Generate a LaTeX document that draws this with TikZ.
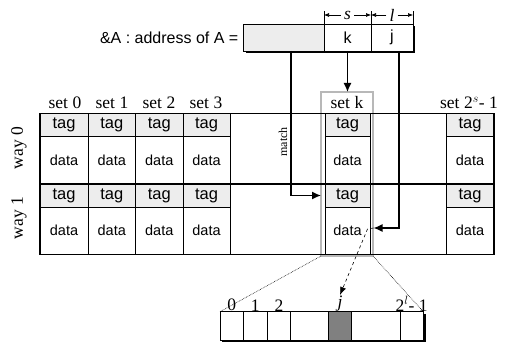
\documentclass[tikz,border=0pt]{standalone}
\usepackage{fontspec}
\setmainfont{Liberation Serif}
\setsansfont{Liberation Sans}
\usetikzlibrary{arrows.meta,calc}
\definecolor{tagfill}{gray}{0.93}
\definecolor{kgray}{gray}{0.72}
\definecolor{jfill}{gray}{0.5}
\newcommand\myTagFont{\sffamily\fontsize{16.5}{16.5}\selectfont}
\newcommand\myDataFont{\sffamily\fontsize{14.5}{14.5}\selectfont}
\newcommand\mySetFont{\rmfamily\fontsize{17.5}{17.5}\selectfont}
\newcommand\myAddrFont{\sffamily\fontsize{16}{16}\selectfont}
\newcommand\mySp{\hspace{4.5pt}}
\begin{document}
\begin{tikzpicture}[x=1pt,y=-1pt,
  cell/.style={draw, line width=0.7pt, inner sep=0pt, outer sep=0pt, anchor=north west},
  tagc/.style={cell, fill=tagfill, minimum height=23pt, font=\myTagFont},
  datac/.style={cell, minimum height=47.5pt, font=\myDataFont},
  abox/.style={cell, line width=0.8pt, fill=white, minimum height=27pt, font=\myAddrFont},
  bcell/.style={cell, line width=0.8pt, fill=white, minimum height=28.3pt},
  setlbl/.style={font=\mySetFont, inner sep=1pt},
  arr/.style={line width=1.4pt, -{Latex[length=9pt,width=8pt]}},
  dimarr/.style={line width=0.6pt, -{Latex[length=5pt,width=4pt]}}
]
\useasboundingbox (0,0) rectangle (505,344);

% set k highlight
\node[draw=kgray, line width=1.6pt, minimum width=52pt, minimum height=164pt,
      anchor=north west, inner sep=0pt, outer sep=0pt] (kbox) at (321,92) {};
\node[setlbl] (setk) at (347,103) {set\mySp k};

% cache grid
\foreach \x/\w/\n in {40/48/0, 88/47.5/1, 135.5/47.5/2, 183/47/3, 325/45/k, 446/48/e} {
  \node[tagc, minimum width=\w pt] (t0\n) at (\x,113.5) {tag};
  \node[datac, minimum width=\w pt] (d0\n) at (\x,136.5) {data};
  \node[tagc, minimum width=\w pt] (t1\n) at (\x,184) {tag};
  \node[datac, minimum width=\w pt] (d1\n) at (\x,207) {data};
}
\draw[line width=1.7pt] (t00.north west) rectangle (d1e.south east);
\draw[line width=1.7pt] (t10.north west) -- (t1e.north east);

% set labels
\node[setlbl] (s0) at (65,103) {set\mySp 0};
\node[setlbl] (s1) at (112,103) {set\mySp 1};
\node[setlbl] (s2) at (159,103) {set\mySp 2};
\node[setlbl] (s3) at (206,103) {set\mySp 3};
\node[setlbl] (se) at (469,103) {set\mySp 2$^{s}$- 1};
\node[setlbl, rotate=90] (w0) at (19,148) {way\mySp 0};
\node[setlbl, rotate=90] (w1) at (19,218) {way\mySp 1};

% address
\fill (245.5,26) rectangle (415,53);
\node[abox, fill=tagfill, minimum width=80.5pt] (aA) at (243.5,24) {};
\node[abox, minimum width=47pt] (aK) at (324,24) {k};
\node[abox, minimum width=42pt] (aJ) at (371,24) {j};
\node[anchor=east, font=\myAddrFont, inner sep=0pt] (alabel) at ($(aA.west)+(-5,0)$) {\&A : address of A =};

% dimension marks
\draw[line width=0.6pt] (aK.north west) -- ++(0,-13);
\draw[line width=0.6pt] (aJ.north west) -- ++(0,-13);
\draw[line width=0.6pt] (aJ.north east) -- ++(0,-13);
\node[font=\mySetFont\itshape, inner sep=3pt] (sl) at ($(aK.north)+(0,-9)$) {s};
\node[font=\mySetFont\itshape, inner sep=3pt] (ll) at ($(aJ.north)+(0,-9)$) {l};
\draw[dimarr] (sl.west) -- (sl.west -| aK.west);
\draw[dimarr] (sl.east) -- (sl.east -| aK.east);
\draw[dimarr] (ll.west) -- (ll.west -| aJ.west);
\draw[dimarr] (ll.east) -- (ll.east -| aJ.east);

% connectors
\draw[arr] (aK.south) -- (aK.south |- kbox.north);
\coordinate (mstart) at ($(aA.south east)+(-33,0)$);
\draw[arr] (mstart) |- (kbox.west |- t1k.west);
\node[font=\rmfamily\fontsize{12}{12}\selectfont, rotate=90, inner sep=0pt] (match) at (283,142) {match};
\coordinate (jstart) at ($(aJ.south)+(7,0)$);
\coordinate (jend) at (373.5,228);
\draw[arr] (jstart) |- (jend);

% bottom line (zoomed data block)
\fill (222.2,314) rectangle (425.5,342.3);
\foreach \x/\w/\n in {220/23.3/0, 243.3/24/1, 267.3/23.4/2, 290.7/37.6/3, 328.3/23.4/4, 351.7/48.3/5, 400/23.3/6} {
  \node[bcell, minimum width=\w pt] (b\n) at (\x,311.7) {};
}
\node[bcell, fill=jfill, minimum width=23.4pt] (b4) at (328.3,311.7) {};
\node[setlbl, anchor=south, inner sep=0.5pt] (l0) at (b0.north) {0};
\node[setlbl, anchor=south, inner sep=0.5pt] (l1) at (b1.north) {1};
\node[setlbl, anchor=south, inner sep=0.5pt] (l2) at (b2.north) {2};
\node[setlbl, anchor=south, inner sep=0.5pt] (lj) at (b4.north) {\itshape j};
\node[setlbl, anchor=south, inner sep=0.5pt] (ln) at (b6.north) {2$^{l}$- 1};

\draw[densely dotted, line width=0.6pt] (kbox.south west) -- (b0.north west);
\draw[densely dotted, line width=0.6pt] (kbox.south east) -- (b6.north east);
\draw[dashed, line width=0.6pt, -{Latex[length=8pt,width=6pt]}] (jend) -- ++(-6,1) -- (lj.north);
\end{tikzpicture}
\end{document}
